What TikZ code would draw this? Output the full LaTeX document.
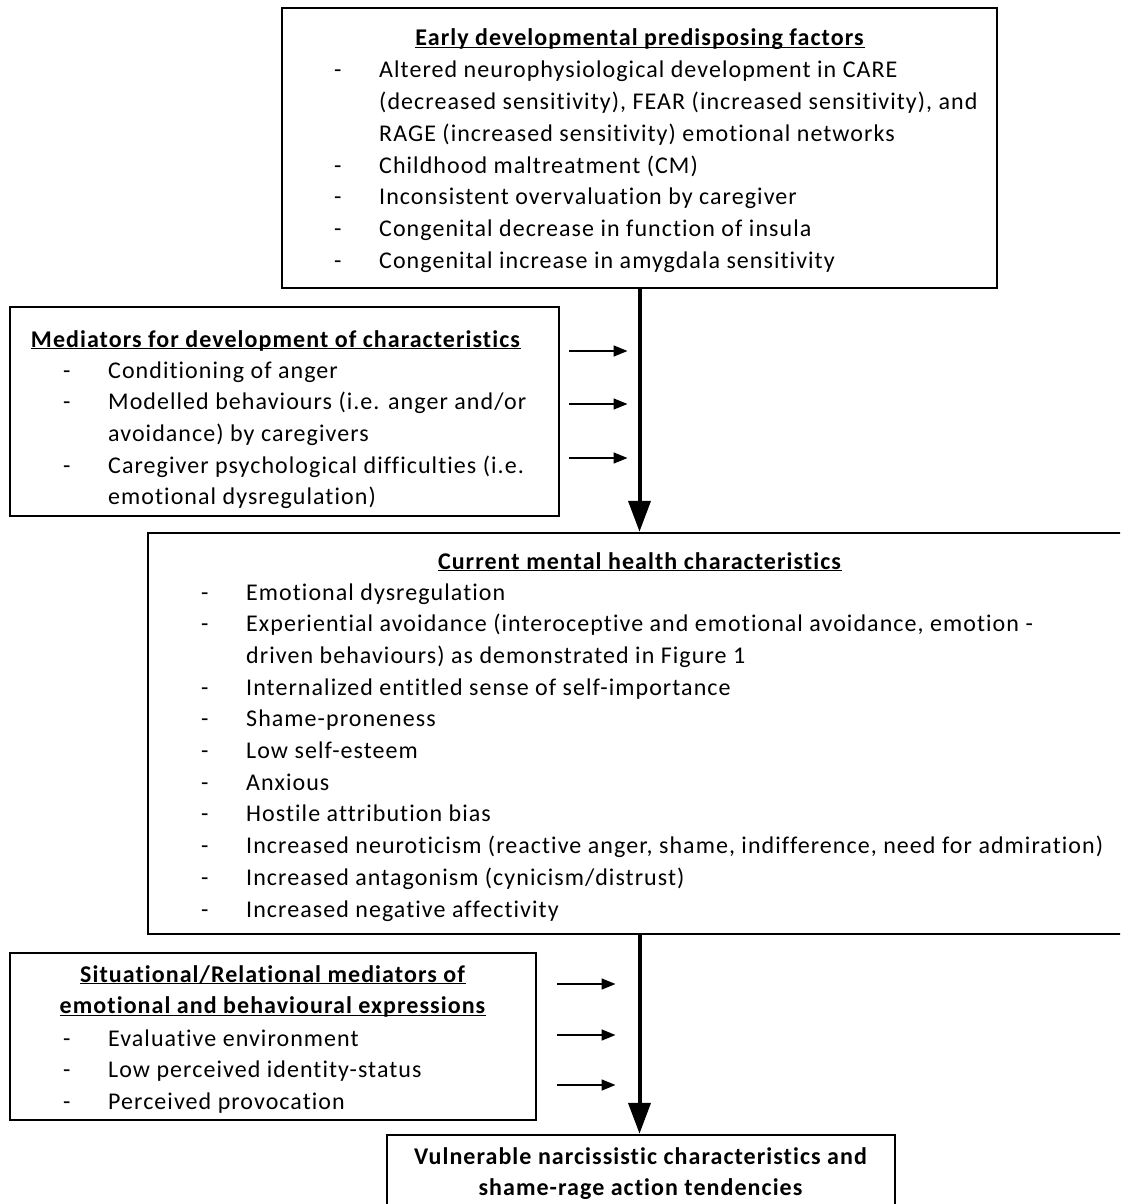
\documentclass[tikz,border=0pt]{standalone}
\usepackage{fontspec}
\setmainfont{Carlito}[LetterSpace=4.4, Ligatures=NoCommon]
\usetikzlibrary{arrows.meta}

\newcommand{\hd}[1]{\underline{\smash{\textbf{#1}}}}
\newenvironment{dashlist}{\begin{tabular}[t]{@{}p{45pt}@{}l@{}}}{\end{tabular}}

\begin{document}
\begin{tikzpicture}[x=1pt,y=-1pt,
    box/.style={draw, line width=2.5pt, inner sep=0pt},
    txt/.style={inner sep=0pt, font=\fontsize{24}{31.7}\selectfont},
    heading/.style={txt, anchor=base},
    items/.style={txt, anchor=base west},
    mainarrow/.style={line width=4pt, -{Triangle[length=31pt,width=22pt]}},
    sidearrow/.style={line width=1.6pt, -{Triangle[length=14pt,width=11pt]}}]

  \clip (0,0) rectangle (1120,1204);

  % boxes
  \node[box, minimum width=715pt, minimum height=280pt] (early) at (639.5,148) {};
  \node[box, minimum width=549pt, minimum height=209pt] (mediators) at (284.5,411.5) {};
  \node[box, minimum width=992pt, minimum height=401pt] (current) at (644,733.5) {};
  \node[box, minimum width=526pt, minimum height=167pt] (situational) at (273,1036.5) {};
  \node[box, minimum width=508pt, minimum height=90pt] (vulnerable) at (641,1180) {};

  % early factors
  \node[heading] (earlytitle) at (640,46) {\hd{Early developmental predisposing factors}};
  \node[items] (earlylist) at (334,78) {\begin{dashlist}
    -&Altered neurophysiological development in CARE\\
    &(decreased sensitivity), FEAR (increased sensitivity), and\\
    &RAGE (increased sensitivity) emotional networks\\
    -&Childhood maltreatment (CM)\\
    -&Inconsistent overvaluation by caregiver\\
    -&Congenital decrease in function of insula\\
    -&Congenital increase in amygdala sensitivity
  \end{dashlist}};

  % mediators
  \node[heading] (medtitle) at (276,347) {\hd{Mediators for development of characteristics}};
  \node[items] (medlist) at (63,378) {\begin{dashlist}
    -&Conditioning of anger\\
    -&Modelled behaviours (i.e. anger and/or\\
    &avoidance) by caregivers\\
    -&Caregiver psychological difficulties (i.e.\\
    &emotional dysregulation)
  \end{dashlist}};

  % current characteristics
  \node[heading] (curtitle) at (640,569) {\hd{Current mental health characteristics}};
  \node[items] (curlist) at (201,600) {\begin{dashlist}
    -&Emotional dysregulation\\
    -&Experiential avoidance (interoceptive and emotional avoidance, emotion -\\
    &driven behaviours) as demonstrated in Figure 1\\
    -&Internalized entitled sense of self-importance\\
    -&Shame-proneness\\
    -&Low self-esteem\\
    -&Anxious\\
    -&Hostile attribution bias\\
    -&Increased neuroticism (reactive anger, shame, indifference, need for admiration)\\
    -&Increased antagonism (cynicism/distrust)\\
    -&Increased negative affectivity
  \end{dashlist}};

  % situational mediators
  \node[heading] (sittitle) at (273,982) {\begin{tabular}[t]{@{}c@{}}
    \hd{Situational/Relational mediators of}\\
    \hd{emotional and behavioural expressions}
  \end{tabular}};
  \node[items] (sitlist) at (63,1046) {\begin{dashlist}
    -&Evaluative environment\\
    -&Low perceived identity-status\\
    -&Perceived provocation
  \end{dashlist}};

  % outcome
  \node[heading] (vultitle) at (641,1164) {\begin{tabular}[t]{@{}c@{}}
    \textbf{Vulnerable narcissistic characteristics and}\\
    \textbf{shame-rage action tendencies}
  \end{tabular}};

  % arrows
  \draw[mainarrow] (early.south) -- (early.south |- current.north);
  \draw[mainarrow] (early.south |- current.south) -- (early.south |- vulnerable.north);

  \coordinate (medout) at ([xshift=9pt]mediators.east);
  \coordinate (medin) at ([xshift=-12pt]early.south);
  \foreach \y in {351,404,458}
    \draw[sidearrow] (medout |- 0,\y) -- (medin |- 0,\y);

  \coordinate (sitout) at ([xshift=20pt]situational.east);
  \coordinate (sitin) at ([xshift=-24pt]early.south);
  \foreach \y in {984,1035,1085}
    \draw[sidearrow] (sitout |- 0,\y) -- (sitin |- 0,\y);
\end{tikzpicture}
\end{document}
